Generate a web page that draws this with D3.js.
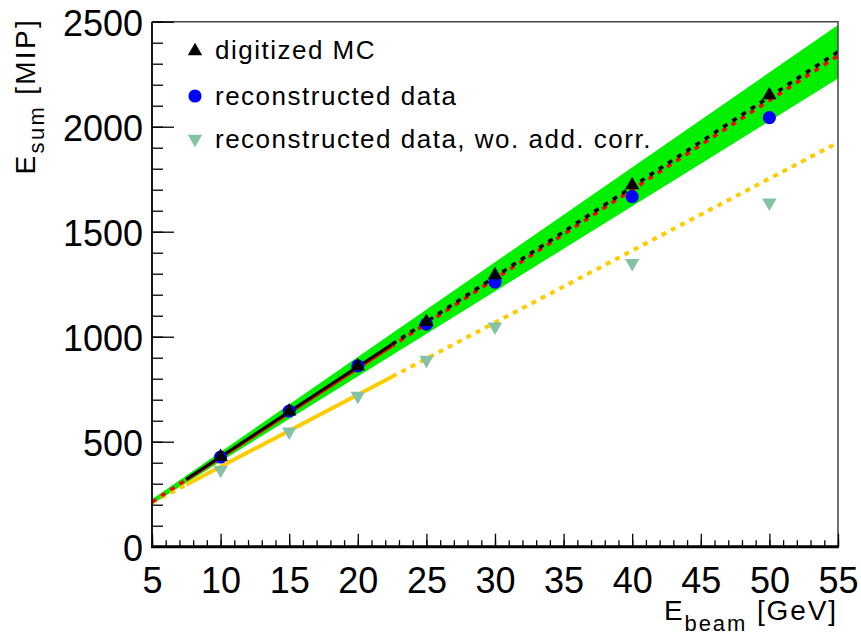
<!DOCTYPE html>
<html>
<head>
<meta charset="utf-8">
<script src="https://cdn.jsdelivr.net/npm/d3@7"></script>
<style>
  body { margin: 0; background: #fff; }
  svg { display: block; }
  text { font-family: "Liberation Sans", Arial, Helvetica, sans-serif; fill: #000; }
</style>
</head>
<body>
<svg id="chart" width="861" height="633"></svg>
<script>
// Beam energies (GeV) and summed energies (MIP)
const beamEnergy = [10, 15, 20, 25, 30, 40, 50];
const mcSum = [428, 645, 860, 1071, 1293, 1722, 2151];
const recoSum = [427, 646, 861, 1060, 1260, 1667, 2043];
const recoNoCorrSum = [365, 548, 718, 889, 1048, 1350, 1638];

// Linear fits: [slope (MIP/GeV), offset (MIP)]
const mcFit = [42.85, 0];
const recoFit = [42.5, 0];
const noCorrFit = [34.3, 38];
const fitRange = [7.5, 22.5];
const drawRange = [5, 55];
const bandRelWidth = 0.054;   // relative half-width of the band around the MC fit

const xTicks = [5, 10, 15, 20, 25, 30, 35, 40, 45, 50, 55];
const yTicks = [0, 500, 1000, 1500, 2000, 2500];
const legendLabels = ["digitized MC", "reconstructed data", "reconstructed data, wo. add. corr."];

const colors = {
  band: "#00f000",
  mc: "#000000",
  reco: "#0000ff",
  recoLine: "#ff0000",
  noCorr: "#85c1a3",
  noCorrLine: "#ffcc00"
};

const svg = d3.select("#chart");
const L = 152, R = 838, T = 21.7, B = 546.7;
const x = d3.scaleLinear().domain([5, 55]).range([L, R]);
const y = d3.scaleLinear().domain([0, 2500]).range([B, T]);

svg.append("defs").append("clipPath").attr("id", "plotArea")
  .append("rect").attr("x", L).attr("y", T).attr("width", R - L).attr("height", B - T);

const plot = svg.append("g").attr("clip-path", "url(#plotArea)");
const fitVal = (p, e) => p[0] * e + p[1];

// Band around the MC fit
const bandArea = d3.area()
  .x(e => x(e))
  .y0(e => y(fitVal(mcFit, e) * (1 - bandRelWidth)))
  .y1(e => y(fitVal(mcFit, e) * (1 + bandRelWidth)));
plot.append("path").datum(drawRange).attr("d", bandArea).attr("fill", colors.band);

const line = d3.line().x(d => x(d[0])).y(d => y(d[1]));
function seg(p, range, color, width, dash, offset) {
  const pts = range.map(e => [e, fitVal(p, e)]);
  const path = plot.append("path").attr("d", line(pts))
    .attr("fill", "none").attr("stroke", color).attr("stroke-width", width);
  if (dash) path.attr("stroke-dasharray", dash).attr("stroke-dashoffset", offset || 0);
  return path;
}

// Fit without additional correction
seg(noCorrFit, [drawRange[0], fitRange[0]], colors.noCorrLine, 4, "5 5.5");
seg(noCorrFit, fitRange, colors.noCorrLine, 4);
seg(noCorrFit, [fitRange[1], drawRange[1]], colors.noCorrLine, 4, "5 5.5");

// Data fit and MC fit
seg(recoFit, fitRange, colors.recoLine, 3.5);
seg(mcFit, fitRange, colors.mc, 3);
seg(recoFit, [drawRange[0], fitRange[0]], colors.recoLine, 3.5, "5 6");
seg(recoFit, [fitRange[1], drawRange[1]], colors.recoLine, 3.5, "5 6", 2);
seg(mcFit, [fitRange[1], drawRange[1]], colors.mc, 3.5, "5 6");

// Markers
const triUp = d3.symbol().type(d3.symbolTriangle).size(90)();
const circ = d3.symbol().type(d3.symbolCircle).size(135)();

const pts = svg.append("g");
pts.selectAll(".nc").data(beamEnergy).join("path")
  .attr("d", triUp).attr("fill", colors.noCorr)
  .attr("transform", (e, i) => `translate(${x(e)},${y(recoNoCorrSum[i])}) rotate(180)`);
pts.selectAll(".rc").data(beamEnergy).join("path")
  .attr("d", circ).attr("fill", colors.reco)
  .attr("transform", (e, i) => `translate(${x(e)},${y(recoSum[i])})`);
pts.selectAll(".mc").data(beamEnergy).join("path")
  .attr("d", triUp).attr("fill", colors.mc)
  .attr("transform", (e, i) => `translate(${x(e)},${y(mcSum[i])})`);

// Frame
svg.append("path")
  .attr("d", `M${L},${T}H${R}V${B}`)
  .attr("fill", "none").attr("stroke", "#444").attr("stroke-width", 1.5);

// Axes with ticks pointing into the plot
const xMinor = d3.axisBottom(x).tickValues(d3.range(5, 56, 1)).tickSize(-6.5).tickFormat("");
const xMajor = d3.axisBottom(x).tickValues(xTicks).tickSize(-13).tickFormat(d3.format("d"));
const yMinor = d3.axisLeft(y).tickValues(d3.range(0, 2501, 100)).tickSize(-11).tickFormat("");
const yMajor = d3.axisLeft(y).tickValues(yTicks).tickSize(-22).tickFormat(d3.format("d"));

function styleAxis(g) {
  g.selectAll(".domain").remove();
  g.selectAll(".tick line").attr("stroke", "#000").attr("stroke-width", 1.3);
  g.selectAll("text").style("font-size", "36px").attr("fill", "#000");
}
svg.append("g").attr("transform", `translate(0,${B})`).call(xMinor).call(styleAxis);
svg.append("g").attr("transform", `translate(0,${B})`).call(xMajor).call(styleAxis)
  .selectAll("text").attr("y", 46).attr("dy", null);
svg.append("g").attr("transform", `translate(${L},0)`).call(yMinor).call(styleAxis);
svg.append("g").attr("transform", `translate(${L},0)`).call(yMajor).call(styleAxis)
  .selectAll("text").attr("x", -9).attr("dy", "0.37em");

svg.append("line").attr("x1", L - 1).attr("x2", R + 0.75).attr("y1", B).attr("y2", B)
  .attr("stroke", "#000").attr("stroke-width", 3);
svg.append("line").attr("x1", L).attr("x2", L).attr("y1", T).attr("y2", B)
  .attr("stroke", "#000").attr("stroke-width", 1.8);

// Axis titles
const xt = svg.append("text").attr("x", 838).attr("y", 620).attr("text-anchor", "end")
  .style("font-size", "28px").style("letter-spacing", "1.9px");
xt.append("tspan").text("E");
xt.append("tspan").attr("dy", 11).style("font-size", "22px").text("beam");
xt.append("tspan").attr("dy", -11).text(" [GeV]");

const yt = svg.append("text").attr("transform", "translate(35,18) rotate(-90)")
  .attr("text-anchor", "end").style("font-size", "28px").style("letter-spacing", "2.3px");
yt.append("tspan").text("E");
yt.append("tspan").attr("dy", 9).style("font-size", "22px").text("sum");
yt.append("tspan").attr("dy", -9).text(" [MIP]");

// Legend
const legend = svg.append("g");
const legY = [51, 96, 139];
const legBase = [58.5, 105, 148];
legend.append("path").attr("d", triUp).attr("fill", colors.mc)
  .attr("transform", `translate(195,${legY[0]})`);
legend.append("path").attr("d", circ).attr("fill", colors.reco)
  .attr("transform", `translate(195,${legY[1]})`);
legend.append("path").attr("d", triUp).attr("fill", colors.noCorr)
  .attr("transform", `translate(195,${legY[2]}) rotate(180)`);
legend.selectAll("text.lab").data(legendLabels).join("text")
  .attr("x", 215).attr("y", (d, i) => legBase[i])
  .style("font-size", "26px").style("letter-spacing", "1.5px")
  .text(d => d);
</script>
</body>
</html>
